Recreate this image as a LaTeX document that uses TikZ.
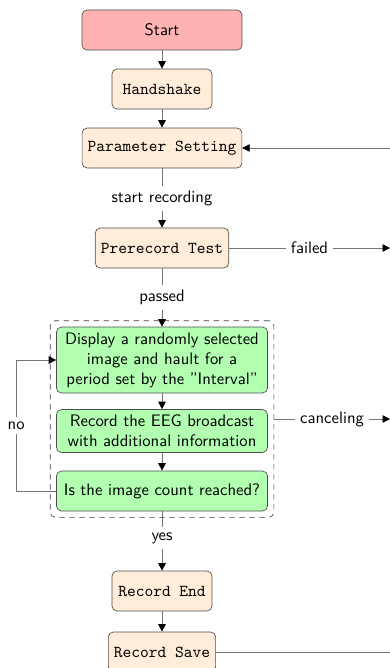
\documentclass[tikz,border=0pt]{standalone}
\usepackage{tikz}
\usetikzlibrary{arrows.meta}
\usetikzlibrary{fit}
\usetikzlibrary{positioning}

\begin{document}
\begin{tikzpicture}[line cap=round,line join=round,>={Triangle[black,length=4.5pt,width=4.5pt]},x=0.6pt,y=-0.6pt,
    box/.style={draw=black!70,rounded corners=3pt,minimum height=24pt,inner sep=3.3pt},
    startbox/.style={box,fill=red!30,minimum width=96pt,font=\sffamily},
    stepbox/.style={box,fill=orange!15,minimum width=60pt,font=\ttfamily},
    taskbox/.style={box,fill=green!30,text width=120pt,align=center,font=\sffamily},
    lbl/.style={fill=white,font=\sffamily,inner sep=3pt},
    link/.style={draw=black!55,->}]
        \useasboundingbox (0,0) rectangle (390,668);
        \node[startbox] (start) at (162,30) {Start};
        \node[stepbox] (hand) at (162,89) {Handshake};
        \node[stepbox] (param) at (162,148) {Parameter Setting};
        \node[stepbox] (prerec) at (162,248) {Prerecord Test};
        %
        \node[taskbox] (disp) at (162,360) {Display a randomly selected\\ image and hault for a\\ period set by the "Interval"};
        \node[taskbox] (eeg) at (162,431) {Record the EEG broadcast\\ with additional information};
        \node[taskbox] (count) at (162,491) {Is the image count reached?};
        \node[draw=black!75,dashed,rounded corners=3pt,inner sep=3.6pt,fit=(disp) (eeg) (count)] (loop) {};
        %
        \node[stepbox] (recend) at (162,591) {Record End};
        \node[stepbox] (recsave) at (162,652) {Record Save};
        %
        \coordinate (failR) at (390,248);
        \coordinate (cancelR) at (390,419);
        \coordinate (backR) at (390,148);
        \coordinate (saveR) at (390,652);
        %
        \draw[link] (start) -- (hand);
        \draw[link] (hand) -- (param);
        \draw[link] (param) -- node[lbl] {start recording} (prerec);
        \draw[link] (prerec) -- node[lbl] {failed} (failR);
        \draw[link] (prerec) -- node[lbl] {passed} (disp);
        \draw[link] (disp) -- (eeg);
        \draw[link] (eeg) -- (count);
        \draw[link] (count.west) -- ++(-40,0) |- node[lbl,pos=0.25] {no} (disp.west);
        \draw[link] (loop.east |- cancelR) -- node[lbl] {canceling} (cancelR);
        \draw[link] (count) -- node[lbl,pos=0.45] {yes} (recend);
        \draw[link] (recend) -- (recsave);
        \draw[link] (backR) -- (param);
        \draw[draw=black!55] (recsave) -- (saveR);
      \end{tikzpicture}
\end{document}
